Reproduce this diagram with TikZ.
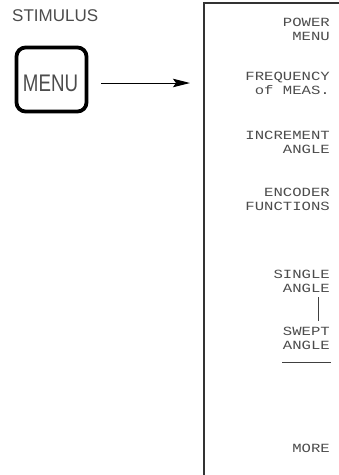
\documentclass[tikz,border=0pt]{standalone}
\usepackage{fontspec}
\usetikzlibrary{arrows.meta}
\setmainfont{Liberation Sans}
\newfontfamily\plotfont[FakeStretch=1.25]{Liberation Mono}
\newfontfamily\keyfont[FakeStretch=0.78]{Liberation Sans}
\begin{document}
\begin{tikzpicture}[x=1pt,y=-1pt,
  softkey/.style={anchor=north east, inner sep=0pt, align=right, text=black!70,
    font=\plotfont\fontsize{12.5}{14}\selectfont},
  thin/.style={line width=1pt, draw=black!75}]
\useasboundingbox (0,0) rectangle (339,475);
% hardkey
\node[anchor=base west, inner sep=0pt, text=black!70, font=\fontsize{17}{18}\selectfont] (stim) at (12,21) {STIMULUS};
\draw[line width=3.8pt, rounded corners=9pt] (16.5,47.5) rectangle (86.5,111.5);
\node[inner sep=0pt, text=black!70, font=\keyfont\fontsize{24}{24}\selectfont] (menu) at (50.5,83) {MENU};
\coordinate (menuR) at (101,83);
\coordinate (panelL) at (190,83);
\draw[line width=1pt, black, -{Stealth[length=17pt,width=8.5pt,inset=3pt]}] (menuR) -- (panelL);
% panel
\draw[line width=1.2pt, black!80] (339,3) -- (204,3) -- (204,475);
% softkeys
\node[softkey] (k1) at (330,18) {POWER\\MENU};
\node[softkey] (k2) at (330,72) {FREQUENCY\\of MEAS.};
\node[softkey] (k3) at (330,131) {INCREMENT\\ANGLE};
\node[softkey] (k4) at (330,188) {ENCODER\\FUNCTIONS};
\node[softkey] (k5) at (330,270) {SINGLE\\ANGLE};
\node[softkey] (k6) at (330,327) {SWEPT\\ANGLE};
\node[softkey] (k7) at (330,444) {MORE};
\draw[thin] (318,297) -- (318,321);
\draw[thin] (282,362) -- (331,362);
\end{tikzpicture}
\end{document}
